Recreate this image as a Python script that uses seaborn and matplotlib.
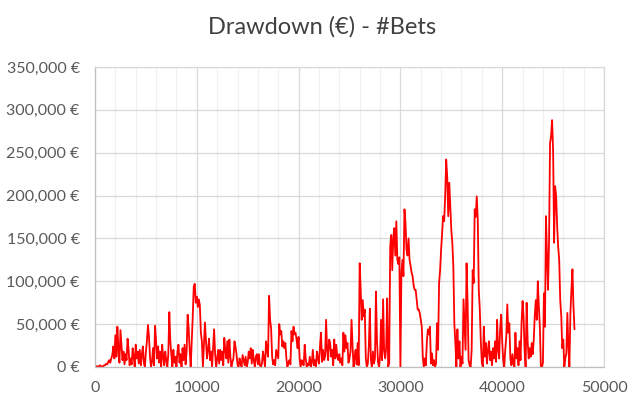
import numpy as np
import pandas as pd
import matplotlib
matplotlib.use("Agg")
import matplotlib.pyplot as plt
from matplotlib.ticker import FuncFormatter, MultipleLocator
import seaborn as sns

# Drawdown in thousands of euros, sampled every 100 bets (one row = 1000 bets)
drawdown_k = [
    0, 0, 1, 0, 1, 2, 1, 0, 1, 2,            # 0
    2, 4, 3, 6, 8, 5, 10, 14, 24, 10,        # 1000
    37, 12, 47, 20, 5, 43, 25, 8, 18, 3,     # 2000
    15, 8, 33, 20, 2, 10, 3, 22, 12, 0,      # 3000
    26, 10, 18, 4, 20, 2, 14, 24, 5, 0,      # 4000
    18, 30, 49, 36, 12, 0, 6, 22, 2, 48,     # 5000
    30, 10, 24, 5, 18, 0, 26, 12, 2, 18,     # 6000
    8, 0, 15, 64, 30, 14, 0, 20, 5, 12,      # 7000
    0, 18, 26, 5, 15, 0, 22, 8, 26, 3,       # 8000
    18, 61, 45, 20, 0, 30, 58, 94, 97, 75,   # 9000
    82, 70, 79, 72, 40, 30, 0, 25, 52, 30,   # 10000
    10, 20, 33, 8, 18, 0, 22, 44, 15, 0,     # 11000
    10, 20, 4, 20, 8, 18, 2, 34, 20, 10,     # 12000
    30, 5, 32, 12, 0, 6, 10, 30, 24, 15,     # 13000
    3, 0, 10, 4, 0, 14, 8, 2, 12, 0,         # 14000
    5, 18, 10, 22, 4, 20, 8, 0, 12, 15,      # 15000
    3, 15, 2, 0, 4, 18, 10, 0, 30, 20,       # 16000
    12, 83, 55, 45, 12, 3, 8, 2, 20, 15,     # 17000
    10, 50, 38, 42, 24, 30, 22, 28, 10, 0,   # 18000
    5, 8, 3, 42, 30, 47, 38, 40, 32, 22,     # 19000
    35, 10, 0, 8, 4, 2, 26, 10, 0, 4,        # 20000
    2, 12, 0, 6, 20, 2, 8, 0, 18, 10,        # 21000
    4, 24, 40, 6, 20, 8, 12, 55, 20, 8,      # 22000
    32, 28, 12, 20, 2, 32, 10, 26, 12, 8,    # 23000
    15, 5, 10, 2, 40, 18, 37, 22, 28, 5,     # 24000
    10, 18, 55, 25, 0, 12, 20, 3, 28, 2,     # 25000
    121, 90, 55, 78, 59, 67, 10, 0, 4, 25,   # 26000
    68, 8, 0, 18, 4, 10, 88, 30, 6, 0,       # 27000
    12, 55, 8, 79, 20, 10, 22, 80, 0, 5,     # 28000
    141, 154, 113, 150, 162, 130, 170, 125, 120, 128,  # 29000
    0, 110, 125, 106, 184, 168, 137, 130, 150, 125,    # 30000
    118, 110, 106, 95, 90, 90, 78, 67, 67, 63,         # 31000
    55, 47, 12, 0, 10, 2, 30, 44, 38, 47,              # 32000
    4, 16, 2, 8, 0, 4, 51, 20, 98, 113,                # 33000
    137, 156, 176, 170, 200, 242, 222, 176, 215, 187,  # 34000
    160, 145, 117, 50, 28, 0, 44, 10, 30, 0,           # 35000
    12, 4, 79, 51, 20, 121, 75, 8, 2, 0,               # 36000
    20, 113, 98, 184, 175, 199, 172, 90, 67, 30,       # 37000
    5, 0, 47, 12, 28, 4, 20, 30, 8, 18,                # 38000
    2, 22, 10, 30, 6, 55, 20, 10, 45, 61,              # 39000
    30, 8, 0, 20, 35, 73, 40, 51, 10, 2,               # 40000
    15, 4, 0, 40, 10, 22, 2, 30, 8, 51,                # 41000
    77, 59, 20, 0, 75, 30, 10, 22, 12, 28,             # 42000
    15, 32, 60, 78, 55, 100, 71, 47, 0, 0,             # 43000
    5, 86, 47, 176, 129, 90, 145, 261, 269, 288,       # 44000
    253, 145, 211, 199, 164, 140, 125, 78, 60, 22,     # 45000
    32, 0, 10, 16, 63, 24, 0, 63, 90, 114,             # 46000
    71, 44,                                            # 47000
]
bet_step = 100
bets = [i * bet_step for i in range(len(drawdown_k))]

y_ticks = [0, 50000, 100000, 150000, 200000, 250000, 300000, 350000]
x_ticks = [0, 10000, 20000, 30000, 40000, 50000]
title = "Drawdown (€) - #Bets"

df = pd.DataFrame({"bets": bets, "drawdown": [v * 1000 for v in drawdown_k]})

sns.set_theme(style="white")
plt.rcParams["font.family"] = ["Lato", "DejaVu Sans"]

fig = plt.figure(figsize=(6.44, 4.09), dpi=100)
ax = fig.add_axes([95 / 644, 1 - 367 / 409, (604 - 95) / 644, (367 - 67) / 409])

sns.lineplot(data=df, x="bets", y="drawdown", ax=ax, color="#FF0000",
             linewidth=1.3, estimator=None, sort=False)

ax.set_xlim(0, 50000)
ax.set_ylim(0, 350000)
ax.set_xticks(x_ticks)
ax.set_yticks(y_ticks)
ax.xaxis.set_minor_locator(MultipleLocator(2000))
ax.yaxis.set_major_formatter(FuncFormatter(lambda v, p: f"{v:,.0f} €"))
ax.xaxis.set_major_formatter(FuncFormatter(lambda v, p: f"{v:.0f}"))
ax.grid(which="major", color="#d9d9d9", linewidth=0.9)
ax.grid(which="minor", axis="x", color="#f0f0f0", linewidth=0.9)
ax.set_axisbelow(True)
ax.tick_params(axis="both", which="both", length=0, labelsize=11.5,
               labelcolor="#595959")
ax.tick_params(axis="y", pad=11)
ax.tick_params(axis="x", pad=10)
for side in ["top", "right"]:
    ax.spines[side].set_color("#d9d9d9")
    ax.spines[side].set_linewidth(0.9)
for side in ["left", "bottom"]:
    ax.spines[side].set_color("#bfbfbf")
    ax.spines[side].set_linewidth(0.9)
ax.set_xlabel("")
ax.set_ylabel("")
fig.suptitle(title, x=322 / 644, y=1 - 16 / 409, va="top",
             fontsize=17, color="#404040")

fig.savefig("out.png", dpi=100)
